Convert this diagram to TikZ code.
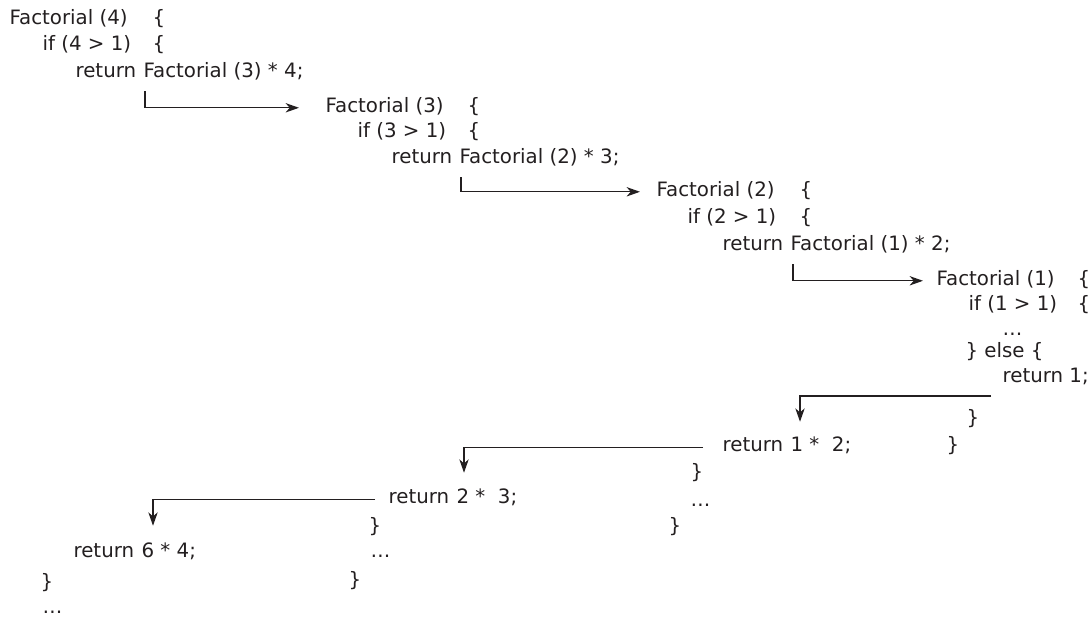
\documentclass[tikz,border=0pt]{standalone}
\usepackage{fontspec}
\setmainfont{DejaVu Sans}
\usepackage{tikz}
\usetikzlibrary{arrows.meta,positioning,calc}
\definecolor{ink}{HTML}{231F20}

\begin{document}
\begin{tikzpicture}[x=0.75pt, y=-0.75pt, >={Stealth[length=10pt,width=7pt,inset=3pt]}, line width=0.9pt, draw=ink, node distance=4.7pt]
\tikzstyle{every node}=[anchor=base west, inner sep=0pt, text=ink, font=\fontsize{14.85}{18}\selectfont]
\useasboundingbox (0,0) rectangle (1090,619);

% Factorial (4)
\node (h4)   at (9,24)    {Factorial (4)};
\node (o4a)  at (152,24)  {\{};
\node (if4)  at (42,50)   {if (4 > 1)};
\node (o4b)  at (152,50)  {\{};
\node (r4)   at (75,77)   {return};
\node (c3)   [base right=of r4] {Factorial (3) * 4;};

% Factorial (3)
\node (h3)   at (325,112) {Factorial (3)};
\node (o3a)  at (467,112) {\{};
\node (if3)  at (357,137) {if (3 > 1)};
\node (o3b)  at (467,137) {\{};
\node (r3)   at (391,163) {return};
\node (c2)   [base right=of r3] {Factorial (2) * 3;};

% Factorial (2)
\node (h2)   at (656,196) {Factorial (2)};
\node (o2a)  at (799,196) {\{};
\node (if2)  at (687,223) {if (2 > 1)};
\node (o2b)  at (799,223) {\{};
\node (r2)   at (722,250) {return};
\node (c1)   [base right=of r2] {Factorial (1) * 2;};

% Factorial (1)
\node (h1)   at (936,285) {Factorial (1)};
\node (o1a)  at (1077,285) {\{};
\node (if1)  at (968,310) {if (1 > 1)};
\node (o1b)  at (1077,310) {\{};
\node (d1)   at (1002,335) {…};
\node (e1)   at (965,357) {\} else \{};
\node (ret1) at (1002,382) {return 1;};
\node (x1a)  at (966,424) {\}};
\node (x1b)  at (946,451) {\}};

% back in Factorial (2)
\node (s2)   at (722,451) {return};
\node (v2)   [base right=of s2] {1 *\ \ 2;};
\node (x2a)  at (690,478) {\}};
\node (d2)   at (690,506) {…};
\node (x2b)  at (668,532) {\}};

% back in Factorial (3)
\node (s3)   at (388,503) {return};
\node (v3)   [base right=of s3] {2 *\ \ 3;};
\node (x3a)  at (368,532) {\}};
\node (d3)   at (370,557) {…};
\node (x3b)  at (348,586) {\}};

% back in Factorial (4)
\node (s4)   at (73,557)  {return};
\node (v4)   [base right=of s4] {6 * 4;};
\node (x4a)  at (40,588)  {\}};
\node (d4)   at (42,613)  {…};

% calls
\draw[->] ($(c3.south west)+(2,11)$) |- ($(h3.west)+(-26,2)$);
\draw[->] ($(c2.south west)+(2,11)$) |- ($(h2.west)+(-16,2)$);
\draw[->] ($(c1.south west)+(3,11)$) |- ($(h1.west)+(-13,2)$);

% returns
\draw[->] ($(ret1.base west)+(-11,14)$) -| ($(v2.north west)+(10,-14)$);
\draw[->] ($(s2.west)+(-19,3)$) -| ($(v3.north west)+(8,-15)$);
\draw[->] ($(s3.west)+(-13,3)$) -| ($(v4.north west)+(12,-16)$);

\end{tikzpicture}
\end{document}
